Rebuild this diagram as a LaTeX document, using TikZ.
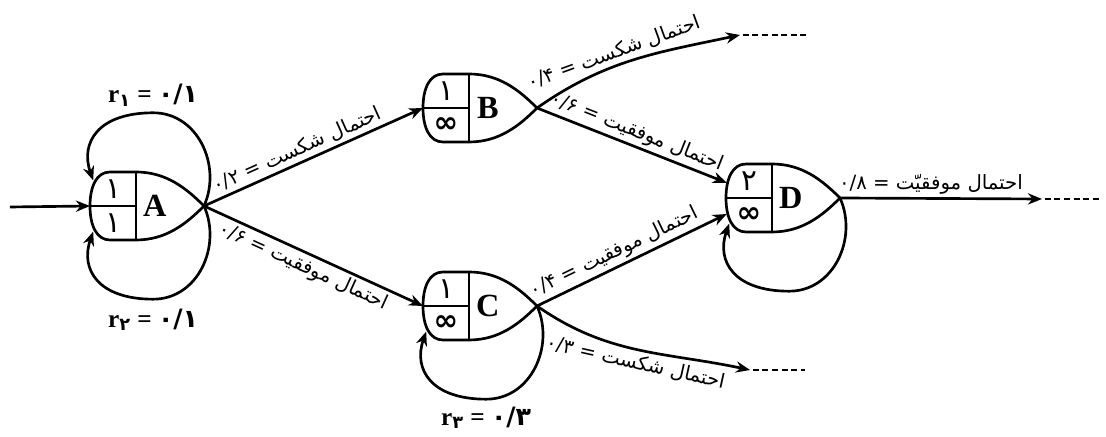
\documentclass[tikz,border=0pt]{standalone}
\usepackage{fontspec}
\setmainfont{Liberation Serif}
\newfontfamily\fa[Script=Arabic]{DejaVu Sans}
\TeXXeTstate=1
\usetikzlibrary{arrows.meta,positioning}

% probability label: text = value, right to left
\newcommand\prb[2]{\beginR #1 = \beginL#2\endL\endR}

\tikzset{
  % teardrop state: #1 upper cell, #2 lower cell, #3 letter
  pics/state/.style n args={3}{code={
    \draw[line width=1.9pt]
      (0,0.85) .. controls (-0.33,0.85) and (-0.5,0.5) .. (-0.5,0)
      .. controls (-0.5,-0.5) and (-0.33,-0.85) .. (0,-0.85)
      -- (0.65,-0.85) .. controls (1.4,-0.85) and (1.9,-0.45) .. (2.35,0)
      .. controls (1.9,0.45) and (1.4,0.85) .. (0.65,0.85) -- cycle;
    \draw[line width=1.6pt] (0.65,0.85) -- (0.65,-0.85);
    \draw[line width=1.6pt] (-0.5,0) -- (0.65,0);
    \node[cell] (-top) at (0.075,0.42) {#1};
    \node[cell] (-bot) at (0.075,-0.42) {#2};
    \node[letter] (-name) at (1.12,0) {#3};
    \coordinate (-tip) at (2.35,0);
    \coordinate (-in) at (-0.5,0);
    \coordinate (-inhi) at (-0.48,0.38);
    \coordinate (-inlo) at (-0.48,-0.4);
    \coordinate (-nw) at (-0.42,0.64);
    \coordinate (-sw) at (-0.42,-0.64);
    \coordinate (-up) at (1.08,2.33);
    \coordinate (-down) at (1.08,-2.33);
  }},
  cell/.style={font=\fa\fontsize{21}{21}\selectfont, inner sep=0pt},
  letter/.style={font=\fontsize{23}{23}\selectfont\bfseries, inner sep=0pt},
  trans/.style={->, line width=1.9pt},
  prob/.style={font=\fa\fontsize{14}{14}\selectfont, sloped, inner sep=2pt},
  rate/.style={font=\fontsize{18}{18}\selectfont\bfseries, inner sep=1pt},
  tail/.style={line width=1.9pt, dash pattern=on 0.15cm off 0.09cm},
}

\begin{document}
\begin{tikzpicture}[>={Stealth[length=10pt,width=8pt]}]
    \useasboundingbox (0,0) rectangle (27.65,10.925);

    % States
    \pic (A) at (2.75,5.775) {state={۱}{۱}{A}};
    \pic (B) at (11.075,8.225) {state={۱}{\bfseries ∞}{B}};
    \pic (C) at (11.075,3.275) {state={۱}{\bfseries ∞}{C}};
    \pic (D) at (18.65,5.975) {state={۲}{\bfseries ∞}{D}};

    % Free ends
    \coordinate (start) at (0.25,5.75);
    \coordinate (Bfail) at (18.5,10.05);
    \coordinate (Bfailend) at (20.18,10.05);
    \coordinate (Cfail) at (18.75,1.675);
    \coordinate (Cfailend) at (20.13,1.675);
    \coordinate (Dout) at (26.05,5.95);
    \coordinate (Doutend) at (27.5,5.95);

    % Input
    \draw[trans] (start) -- (A-in);

    % Self loops
    \draw[trans] (A-tip) .. controls +(0.45,1.0) and +(1.12,0) .. (A-up)
        .. controls +(-1.38,0) and +(-0.33,0.94) .. (A-nw);
    \draw[trans] (A-tip) .. controls +(0.45,-1.0) and +(1.12,0) .. (A-down)
        .. controls +(-1.38,0) and +(-0.33,-0.94) .. (A-sw);
    \draw[trans] (C-tip) .. controls +(0.45,-1.0) and +(1.12,0) .. (C-down)
        .. controls +(-1.38,0) and +(-0.33,-0.94) .. (C-sw);
    \draw[trans] (D-tip) .. controls +(0.45,-1.0) and +(1.12,0) .. (D-down)
        .. controls +(-1.38,0) and +(-0.33,-0.94) .. (D-sw);

    % Rates
    \node[rate, above=0.12 of A-up] (r1) {r\textsubscript{\fa ۱} = {\fa ۰/۱}};
    \node[rate, below=0.2 of A-down] (r2) {r\textsubscript{\fa ۲} = {\fa ۰/۱}};
    \node[rate, below=0.15 of C-down] (r3) {r\textsubscript{\fa ۳} = {\fa ۰/۳}};

    % Transitions
    \draw[trans] (A-tip) -- node[prob, above, pos=0.45] (pAB)
        {\prb{احتمال شکست}{۰/۲}} (B-in);
    \draw[trans] (A-tip) -- node[prob, below, pos=0.48] (pAC)
        {\prb{احتمال موفقیت}{۰/۶}} (C-in);
    \draw[trans] (B-tip) -- node[prob, above, pos=0.5] (pBD)
        {\prb{احتمال موفقیت}{۰/۶}} (D-inhi);
    \draw[trans] (C-tip) -- node[prob, above, pos=0.44] (pCD)
        {\prb{احتمال موفقیت}{۰/۴}} (D-inlo);
    \draw[trans] (B-tip) to[out=35, in=192] node[prob, above, pos=0.42] (pBF)
        {\prb{احتمال شکست}{۰/۴}} (Bfail);
    \draw[trans] (C-tip) to[out=-35, in=168] node[prob, below, pos=0.5] (pCF)
        {\prb{احتمال شکست}{۰/۳}} (Cfail);
    \draw[trans] (D-tip) -- node[prob, above, pos=0.45] (pDO)
        {\prb{احتمال موفقیّت}{۰/۸}} (Dout);

    % Dashed continuations
    \draw[tail, shorten <=2pt] (Bfail) -- (Bfailend);
    \draw[tail, shorten <=2pt] (Cfail) -- (Cfailend);
    \draw[tail, shorten <=2pt] (Dout) -- (Doutend);
\end{tikzpicture}
\end{document}
